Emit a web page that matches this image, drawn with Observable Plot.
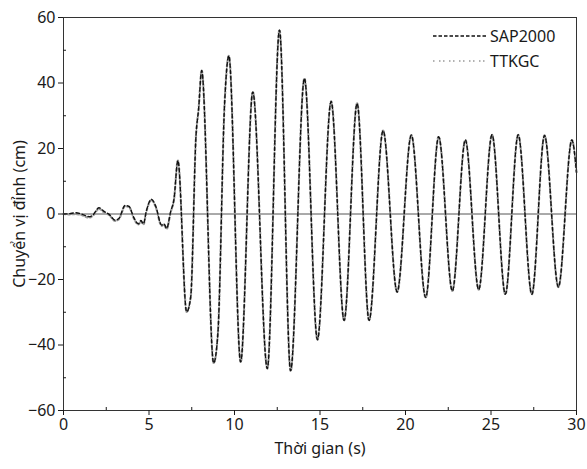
<!DOCTYPE html>
<html>
<head>
<meta charset="utf-8">
<script src="https://cdn.jsdelivr.net/npm/d3@7"></script>
<script src="https://cdn.jsdelivr.net/npm/@observablehq/plot@0.6"></script>
<style>
  html, body { margin: 0; padding: 0; background: #fff; }
  #wrap { position: relative; width: 587px; height: 469px; }
  #legend { position: absolute; left: 0; top: 0; pointer-events: none; }
</style>
</head>
<body>
<div id="wrap"><div id="chart"></div></div>
<script>
// ---- data ----
const time = [
  0, 0.33, 0.72, 1.1, 1.5, 1.7, 2.08, 2.37, 2.67, 3.02, 3.25, 3.6, 3.83, 4.12, 4.38, 4.53, 4.67, 4.85,
  5.14, 5.39, 5.74, 5.88, 6.03, 6.27, 6.46, 6.69, 7.2, 7.44, 7.75, 7.9, 8.08, 8.78, 9.03, 9.42, 9.67,
  10.36, 11.07, 11.92, 12.63, 13.28, 14.09, 14.85, 15.65, 16.41, 17.17, 17.87, 18.69, 19.51, 20.34,
  21.18, 21.94, 22.74, 23.5, 24.28, 25.06, 25.84, 26.59, 27.39, 28.13, 28.94, 29.73, 30
];
const sap2000 = [
  0, 0.1, 0.4, -0.1, -0.8, -0.4, 1.9, 0.8, -0.1, -1.9, -1.3, 2.6, 2.3, -1.2, -3.0, -2.0, -3.0, 1.0,
  4.5, 2.4, -3.4, -3.0, -4.4, 0.8, 4.5, 16.3, -29.9, -25.3, 24, 32, 43.8, -45.5, -36.3, 33.6, 48.3,
  -45.2, 37.3, -47.2, 56.2, -47.9, 41.4, -38.4, 34.4, -32.5, 33.8, -32.5, 25.5, -23.8, 24.1,
  -25.5, 23.6, -23.5, 22.6, -23.1, 24.2, -24.5, 24.2, -24.5, 24.0, -22.3, 22.6, 12.7
];
const ttkgc = [
  0, -0.1, 0.0, -0.4, -1.1, -0.6, 1.6, 0.5, -0.3, -2.1, -1.5, 2.4, 2.2, -1.4, -3.2, -2.2, -3.2, 0.8,
  4.3, 2.2, -3.6, -3.2, -4.6, 0.6, 4.3, 16.3, -29.9, -25.3, 24, 32, 43.8, -45.5, -36.3, 33.6, 48.3,
  -45.2, 37.3, -47.2, 56.2, -47.9, 41.4, -38.4, 34.4, -32.5, 33.8, -32.5, 25.5, -23.8, 24.1,
  -25.5, 23.6, -23.5, 22.6, -23.1, 24.2, -24.5, 24.2, -24.5, 24.0, -22.3, 22.6, 12.7
];
const seriesNames = ["SAP2000", "TTKGC"];
const xTicks = [0, 5, 10, 15, 20, 25, 30];
const xMinor = [2.5, 7.5, 12.5, 17.5, 22.5, 27.5];
const yTicks = [-60, -40, -20, 0, 20, 40, 60];
const yMinor = [-50, -30, -10, 10, 30, 50];

const sapData = time.map((t, i) => ({t, v: sap2000[i]}));
const ttkData = time.map((t, i) => ({t, v: ttkgc[i]}));

const font = "'Noto Sans', 'Open Sans', sans-serif";

const chart = Plot.plot({
  width: 587,
  height: 469,
  marginLeft: 63,
  marginRight: 11,
  marginTop: 17,
  marginBottom: 59,
  style: {fontFamily: font, fontSize: "16px", color: "#1a1a1a", background: "#fff", overflow: "visible"},
  x: {domain: [0, 30]},
  y: {domain: [-60, 60]},
  marks: [
    Plot.ruleY([0], {stroke: "#555", strokeWidth: 1}),
    Plot.line(ttkData, {x: "t", y: "v", curve: "monotone-x", stroke: "#9a9a9a", strokeWidth: 2.2, strokeDasharray: "2,2.5"}),
    Plot.line(sapData, {x: "t", y: "v", curve: "monotone-x", stroke: "#111", strokeWidth: 1.4, strokeDasharray: "3.5,2.8"}),
    Plot.frame({stroke: "#333", strokeWidth: 1}),
    Plot.axisX(xTicks, {tickSize: 5, tickPadding: 3, fontSize: 16, label: "Thời gian (s)", labelAnchor: "center", labelOffset: 43, labelArrow: "none"}),
    Plot.axisX(xMinor, {tickSize: -3, tickFormat: () => "", label: null}),
    Plot.axisY(yTicks, {tickSize: 5, tickPadding: 3, fontSize: 16, label: "Chuyển vị đỉnh (cm)", labelAnchor: "center", labelOffset: 50, labelArrow: "none"}),
    Plot.axisY(yMinor, {tickSize: -3, tickFormat: () => "", label: null})
  ]
});
document.getElementById("chart").appendChild(chart);

// legend (inside plot, top right)
const ns = "http://www.w3.org/2000/svg";
const leg = document.createElementNS(ns, "svg");
leg.setAttribute("id", "legend");
leg.setAttribute("width", 587);
leg.setAttribute("height", 469);
const styles = [
  {stroke: "#111", width: 1.5, dash: "3.5,2"},
  {stroke: "#999", width: 1.5, dash: "1.5,4.5,1.5,2.5"}
];
seriesNames.forEach((name, i) => {
  const y = 36 + i * 25;
  const ln = document.createElementNS(ns, "line");
  ln.setAttribute("x1", 433); ln.setAttribute("x2", 487);
  ln.setAttribute("y1", y); ln.setAttribute("y2", y);
  ln.setAttribute("stroke", styles[i].stroke);
  ln.setAttribute("stroke-width", styles[i].width);
  ln.setAttribute("stroke-dasharray", styles[i].dash);
  leg.appendChild(ln);
  const tx = document.createElementNS(ns, "text");
  tx.setAttribute("x", 490); tx.setAttribute("y", y);
  tx.setAttribute("dy", "0.36em");
  tx.setAttribute("font-family", font);
  tx.setAttribute("font-size", 16);
  tx.setAttribute("fill", "#1a1a1a");
  tx.textContent = name;
  leg.appendChild(tx);
});
document.getElementById("wrap").appendChild(leg);
</script>
</body>
</html>
